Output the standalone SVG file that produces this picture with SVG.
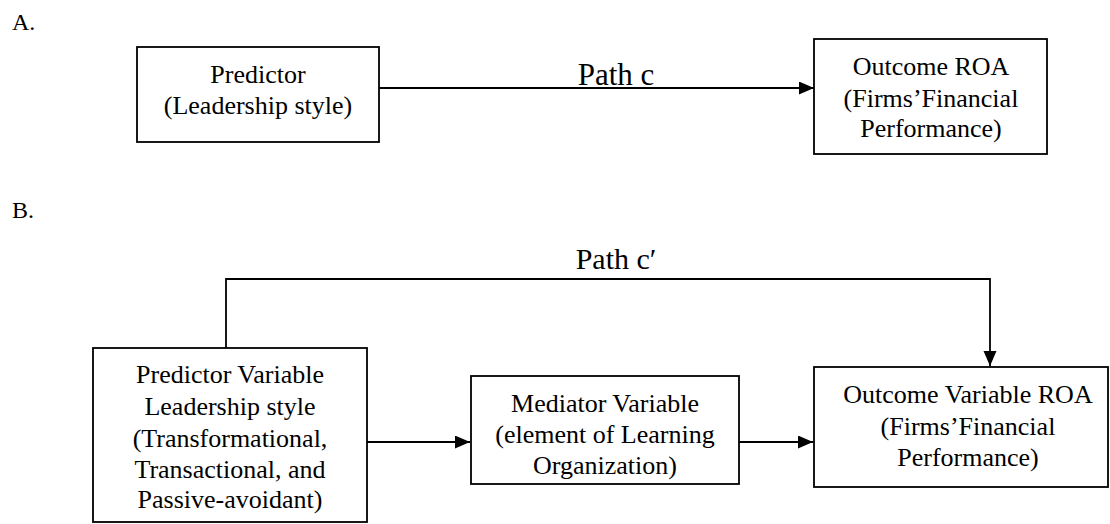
<svg xmlns="http://www.w3.org/2000/svg" width="1110" height="524" viewBox="0 0 1110 524">
  <style>
    text { font-family: "Liberation Serif", "Times New Roman", serif; fill: #000; }
    .box { fill: #fff; stroke: #000; stroke-width: 1.8; }
    .lbl { font-size: 26px; text-anchor: middle; }
    .sec { font-size: 24px; }
    .path { text-anchor: middle; }
    .edge { fill: none; stroke: #000; stroke-width: 1.8; }
  </style>
  <defs>
    <marker id="arrow" markerUnits="userSpaceOnUse" markerWidth="16" markerHeight="14" refX="15" refY="6.5" orient="auto">
      <path d="M0,0 L15,6.5 L0,13 z" fill="#000"/>
    </marker>
  </defs>
  <rect width="1110" height="524" fill="#fff"/>

  <!-- Section labels -->
  <text class="sec" x="12" y="30">A.</text>
  <text class="sec" x="12" y="218">B.</text>

  <!-- Connectors -->
  <g id="connectors">
    <path class="edge" d="M379,88 H814" marker-end="url(#arrow)"/>
    <text class="path" x="616" y="85" font-size="31">Path c</text>
    <path class="edge" d="M226,348 V279 H990 V366" marker-end="url(#arrow)"/>
    <text class="path" x="616" y="269" font-size="30">Path c′</text>
    <path class="edge" d="M367,442 H470" marker-end="url(#arrow)"/>
    <path class="edge" d="M739,442 H813" marker-end="url(#arrow)"/>
  </g>

  <!-- Model A: direct effect -->
  <g id="predictor-a">
    <rect class="box" x="137" y="47" width="242" height="95"/>
    <text class="lbl" x="258" y="83">Predictor</text>
    <text class="lbl" x="258" y="114">(Leadership style)</text>
  </g>
  <g id="outcome-a">
    <rect class="box" x="814" y="39" width="233" height="115"/>
    <text class="lbl" x="931" y="75">Outcome ROA</text>
    <text class="lbl" x="931" y="107">(Firms’Financial</text>
    <text class="lbl" x="931" y="137">Performance)</text>
  </g>

  <!-- Model B: mediated effect -->
  <g id="predictor-b">
    <rect class="box" x="93" y="348" width="274" height="174"/>
    <text class="lbl" x="230" y="383">Predictor Variable</text>
    <text class="lbl" x="230" y="415">Leadership style</text>
    <text class="lbl" x="230" y="447">(Transformational,</text>
    <text class="lbl" x="230" y="478">Transactional, and</text>
    <text class="lbl" x="230" y="508">Passive-avoidant)</text>
  </g>
  <g id="mediator-b">
    <rect class="box" x="471" y="376" width="268" height="108"/>
    <text class="lbl" x="605" y="412">Mediator Variable</text>
    <text class="lbl" x="605" y="443">(element of Learning</text>
    <text class="lbl" x="605" y="474">Organization)</text>
  </g>
  <g id="outcome-b">
    <rect class="box" x="814" y="367" width="294" height="120"/>
    <text class="lbl" x="968" y="403">Outcome Variable ROA</text>
    <text class="lbl" x="968" y="435">(Firms’Financial</text>
    <text class="lbl" x="968" y="466">Performance)</text>
  </g>
</svg>
